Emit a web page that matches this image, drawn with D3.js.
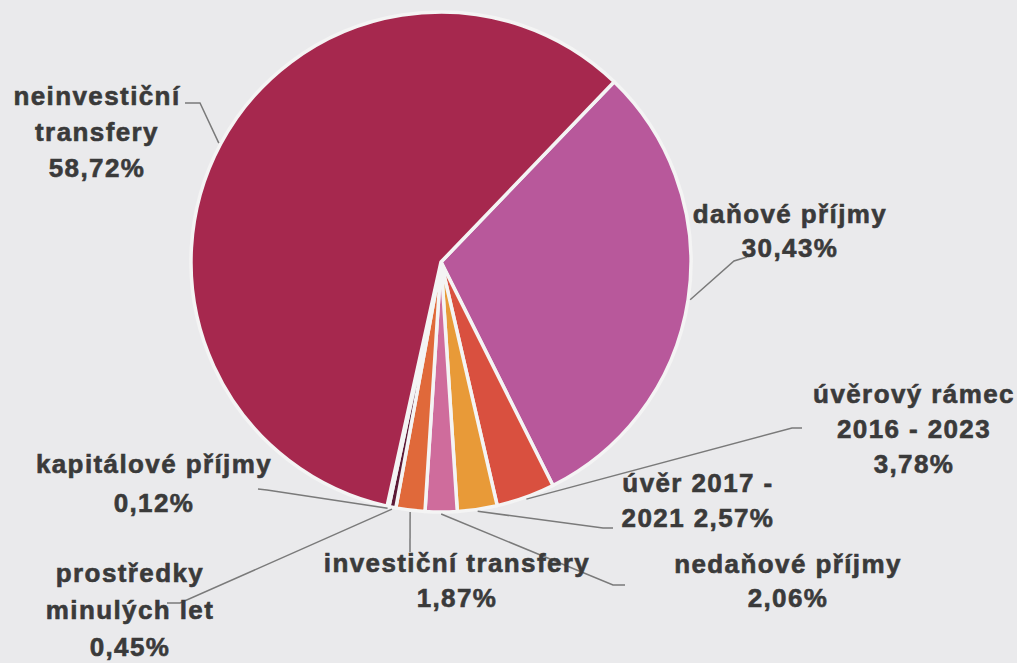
<!DOCTYPE html>
<html>
<head>
<meta charset="utf-8">
<script src="https://cdn.jsdelivr.net/npm/d3@7"></script>
<style>
  body { margin: 0; background: #eaeaec; }
  svg { display: block; }
  .lbl { font-family: "Liberation Sans", Arial, sans-serif; font-weight: bold; font-size: 26px; fill: #3a3a3a;
         stroke: #3a3a3a; stroke-width: 0.6px; letter-spacing: 1.4px; }
</style>
</head>
<body>
<svg id="chart"></svg>
<script>
// slices, clockwise starting at the daňové příjmy boundary
const categories = ["daňové příjmy", "úvěrový rámec 2016 - 2023", "úvěr 2017 - 2021", "nedaňové příjmy",
  "investiční transfery", "prostředky minulých let", "kapitálové příjmy", "neinvestiční transfery"];
const shares = [30.43, 3.78, 2.57, 2.06, 1.87, 0.45, 0.12, 58.72];
const colors = ["#b8589b", "#d9503f", "#e89a38", "#cf6c9c", "#e0693a", "#5c1a36", "#8c2f55", "#a6284e"];

// how each label is broken into lines ({v} = percentage)
const labelLines = [
  ["daňové příjmy", "{v}"],
  ["úvěrový rámec", "2016 - 2023", "{v}"],
  ["úvěr 2017 -", "2021 {v}"],
  ["nedaňové příjmy", "{v}"],
  ["investiční transfery", "{v}"],
  ["prostředky", "minulých let", "{v}"],
  ["kapitálové příjmy", "{v}"],
  ["neinvestiční", "transfery", "{v}"]
];

// label layout: text centre x, first baseline, line step, leader elbow and end
const labelLayout = [
  { x: 790, y: 223, dy: 34, elbow: [734, 261], end: [747, 257] },
  { x: 914, y: 403, dy: 35, elbow: [792, 428], end: [802, 428] },
  { x: 698, y: 492, dy: 35, elbow: [603, 528], end: [613, 528] },
  { x: 788, y: 573, dy: 34, elbow: [613, 585], end: [625, 585] },
  { x: 457, y: 572, dy: 35, elbow: [410, 552], end: [410, 552] },
  { x: 130, y: 582, dy: 37, elbow: [180, 603], end: [167, 603] },
  { x: 154, y: 473, dy: 39, elbow: [267, 490], end: [258, 489] },
  { x: 97, y: 105, dy: 36, elbow: [200, 103], end: [185, 103] }
];

const width = 1017, height = 663;
const cx = 441, cy = 262, radius = 250;
const startDeg = 43.85;

const svg = d3.select("#chart").attr("width", width).attr("height", height);

const data = categories.map((c, i) => ({ name: c, value: shares[i], color: colors[i], lines: labelLines[i], pos: labelLayout[i] }));

const pie = d3.pie()
  .sort(null)
  .value(d => d.value)
  .startAngle(startDeg * Math.PI / 180)
  .endAngle(startDeg * Math.PI / 180 + 2 * Math.PI);

const arcs = pie(data);
const arc = d3.arc().innerRadius(0).outerRadius(radius);
const edgeArc = d3.arc().innerRadius(radius + 2).outerRadius(radius + 2);

const fmt = v => d3.format(".2f")(v).replace(".", ",") + "%";

const g = svg.append("g").attr("transform", `translate(${cx},${cy})`);

g.selectAll("path.slice")
  .data(arcs)
  .join("path")
  .attr("class", "slice")
  .attr("d", arc)
  .attr("fill", d => d.data.color)
  .attr("stroke", "#f4f4f4")
  .attr("stroke-width", 3.5)
  .attr("stroke-linejoin", "round");

// leader lines
svg.selectAll("polyline.leader")
  .data(arcs)
  .join("polyline")
  .attr("class", "leader")
  .attr("fill", "none")
  .attr("stroke", "#7a7a7a")
  .attr("stroke-width", 1.5)
  .attr("points", d => {
    const c = edgeArc.centroid(d);
    const p = d.data.pos;
    return [[c[0] + cx, c[1] + cy], p.elbow, p.end].map(q => q.join(",")).join(" ");
  });

// labels
const labels = svg.selectAll("text.lbl")
  .data(arcs)
  .join("text")
  .attr("class", "lbl")
  .attr("text-anchor", "middle");

labels.selectAll("tspan")
  .data(d => d.data.lines.map((l, i) => ({ text: l.replace("{v}", fmt(d.data.value)), x: d.data.pos.x, y: d.data.pos.y + i * d.data.pos.dy })))
  .join("tspan")
  .attr("x", d => d.x)
  .attr("y", d => d.y)
  .text(d => d.text);
</script>
</body>
</html>
